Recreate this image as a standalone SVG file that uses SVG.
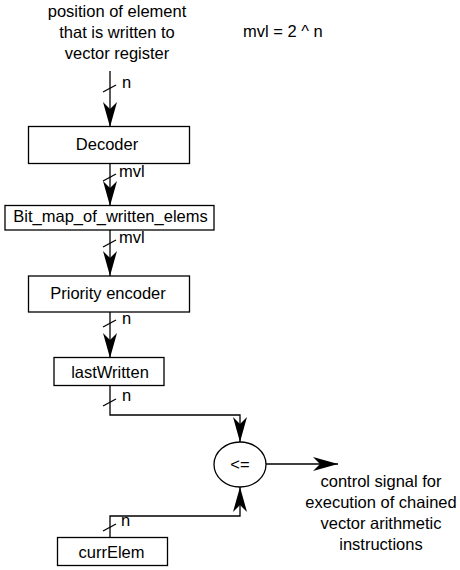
<svg xmlns="http://www.w3.org/2000/svg" width="460" height="570" viewBox="0 0 460 570">
<style>
.box{fill:#fff;stroke:#000;stroke-width:1.3}
.ln{fill:none;stroke:#000;stroke-width:1.3}
.t{font-family:"Liberation Sans",Arial,sans-serif;font-size:16.5px;fill:#000}
.m{text-anchor:middle}
</style>
<defs>
<marker id="ah" viewBox="0 0 25 14" refX="25" refY="7" markerWidth="25" markerHeight="14" markerUnits="userSpaceOnUse" orient="auto">
<path d="M0,0 L25,7 L0,14 L7,7 Z" fill="#000"/>
</marker>
</defs>
<rect width="460" height="570" fill="#fff"/>
<g id="labels">
<text class="t m" x="117" y="17">position of element</text>
<text class="t m" x="117" y="38">that is written to</text>
<text class="t m" x="117" y="59">vector register</text>
<text class="t" x="243" y="37">mvl = 2 ^ n</text>
<text class="t m" x="381" y="487">control signal for</text>
<text class="t m" x="381" y="508">execution of chained</text>
<text class="t m" x="381" y="529">vector arithmetic</text>
<text class="t m" x="381" y="550">instructions</text>
</g>
<g id="connectors">
<line class="ln" x1="110" y1="71" x2="110" y2="127" marker-end="url(#ah)"/>
<line class="ln" x1="103" y1="92" x2="116" y2="85"/>
<text class="t" x="122" y="88">n</text>
<line class="ln" x1="110" y1="163" x2="110" y2="206" marker-end="url(#ah)"/>
<line class="ln" x1="103" y1="181" x2="116" y2="174"/>
<text class="t" x="119" y="177">mvl</text>
<line class="ln" x1="110" y1="230" x2="110" y2="276" marker-end="url(#ah)"/>
<line class="ln" x1="103" y1="247" x2="116" y2="240"/>
<text class="t" x="119" y="243">mvl</text>
<line class="ln" x1="110" y1="312" x2="110" y2="358" marker-end="url(#ah)"/>
<line class="ln" x1="103" y1="327" x2="116" y2="320"/>
<text class="t" x="122" y="324">n</text>
<path class="ln" d="M110,386 V415 H240 V442" marker-end="url(#ah)"/>
<line class="ln" x1="103" y1="406" x2="116" y2="399"/>
<text class="t" x="122" y="401">n</text>
<path class="ln" d="M110,538 V516 H240 V487" marker-end="url(#ah)"/>
<line class="ln" x1="103" y1="531" x2="116" y2="524"/>
<text class="t" x="121" y="526">n</text>
<line class="ln" x1="266" y1="464" x2="338" y2="464" marker-end="url(#ah)"/>
</g>
<g id="decoder">
<rect class="box" x="28.5" y="126.5" width="161" height="37"/>
<text class="t m" x="107" y="149.5">Decoder</text>
</g>
<g id="bitmap">
<rect class="box" x="5" y="205.5" width="209" height="24.5"/>
<text class="t m" x="110.5" y="222">Bit_map_of_written_elems</text>
</g>
<g id="priority">
<rect class="box" x="28.5" y="276" width="161" height="36"/>
<text class="t m" x="108" y="298.5">Priority encoder</text>
</g>
<g id="lastWritten">
<rect class="box" x="54" y="357.5" width="110" height="28"/>
<text class="t m" x="110" y="377.5">lastWritten</text>
</g>
<g id="compare">
<ellipse class="box" cx="240" cy="464.5" rx="26" ry="22.5"/>
<text class="t m" x="240" y="469.5">&lt;=</text>
</g>
<g id="currElem">
<rect class="box" x="57.5" y="537.5" width="110" height="28"/>
<text class="t m" x="111.5" y="558">currElem</text>
</g>
</svg>
